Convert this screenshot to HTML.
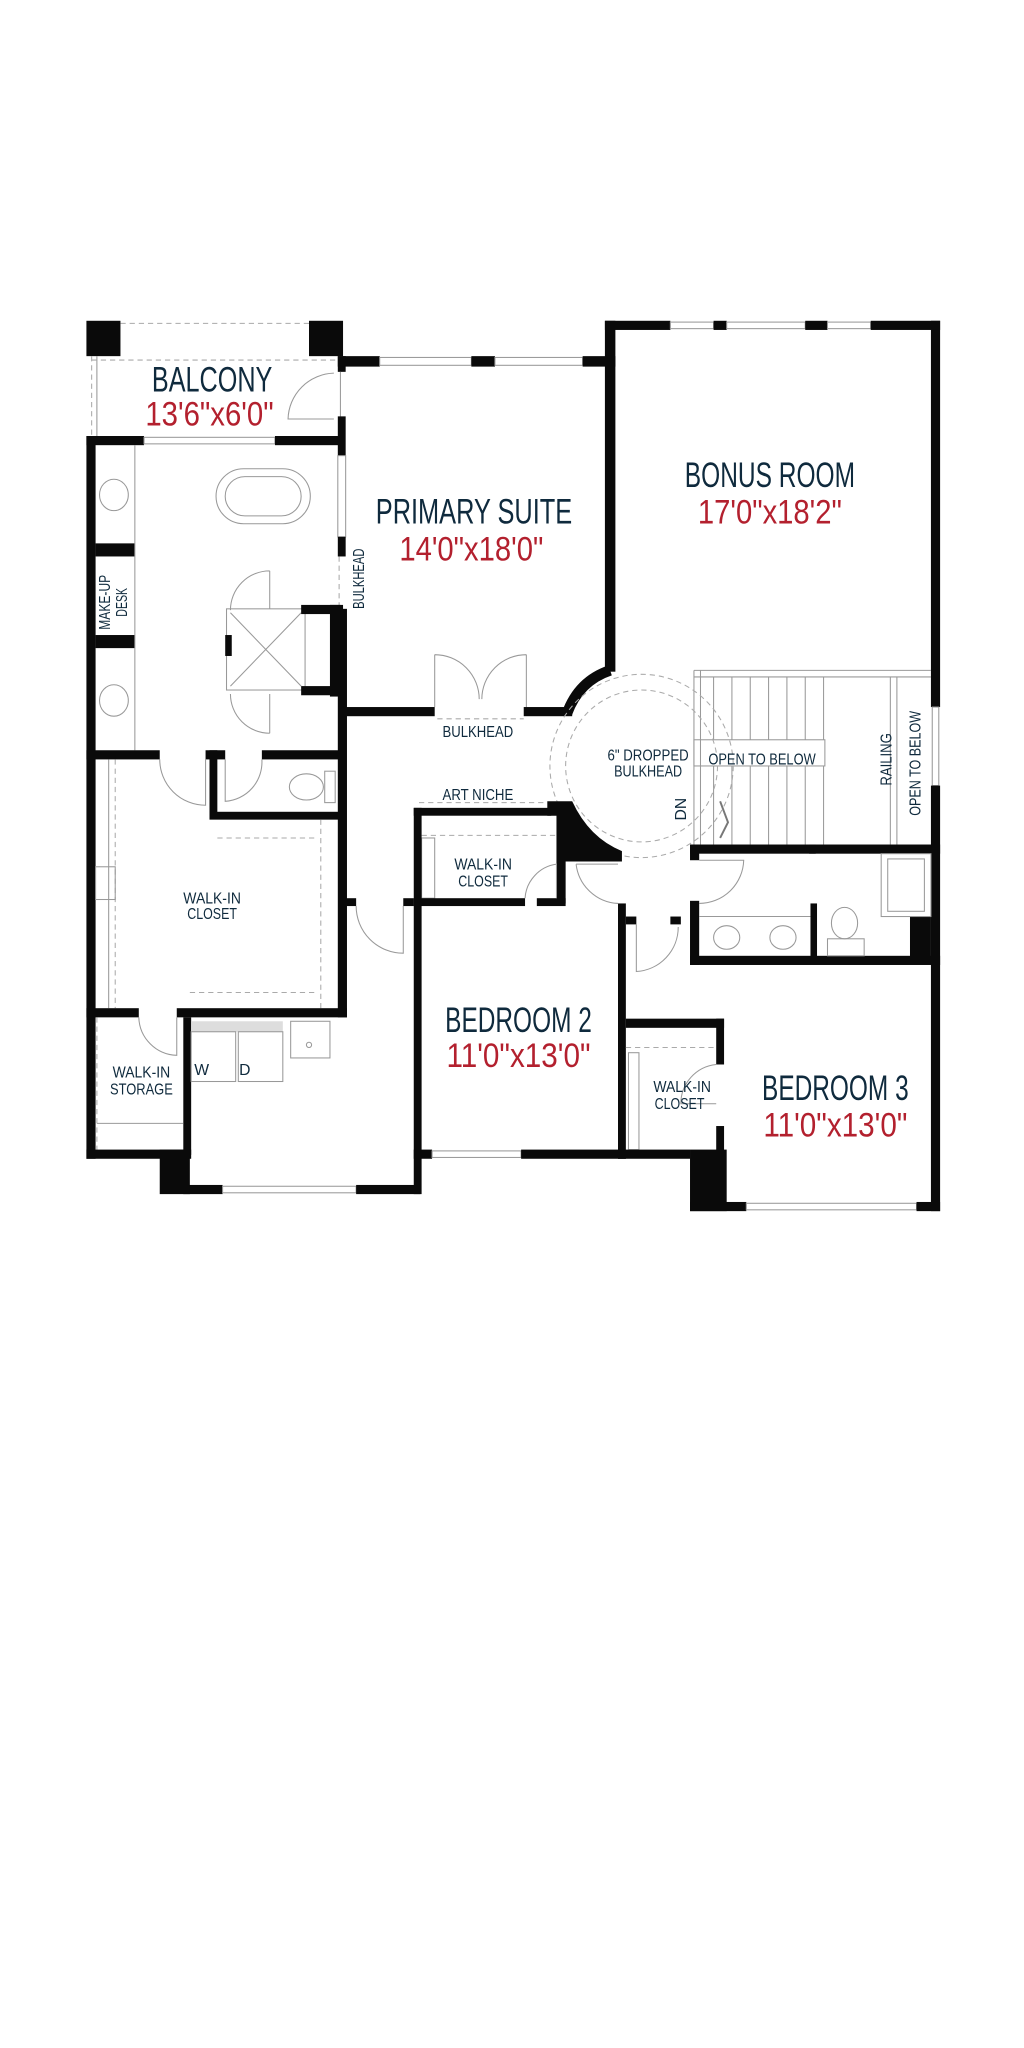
<!DOCTYPE html>
<html><head><meta charset="utf-8"><style>
html,body{margin:0;padding:0;background:#fff;width:1024px;height:2048px;overflow:hidden}
svg{display:block}
.n{fill:#0f2a3d;font-family:"Liberation Sans Narrow","Liberation Sans",sans-serif;text-anchor:middle}
.r{fill:#b3202e;font-family:"Liberation Sans Narrow","Liberation Sans",sans-serif;text-anchor:middle}
.w{fill:#0a0a0a}
.t{fill:none;stroke:#999;stroke-width:0.8}
.d{fill:none;stroke:#aaa;stroke-width:0.8;stroke-dasharray:4 3}
.win{fill:#fff;stroke:#999;stroke-width:0.8}
</style></head><body>
<svg width="1024" height="2048" viewBox="0 0 768 1536" xmlns="http://www.w3.org/2000/svg">
<g transform="scale(0.982)">
<!-- balcony -->
<rect class="w" x="66" y="245" width="26" height="27"/>
<rect class="w" x="236" y="245" width="26" height="27"/>
<line class="d" x1="92" y1="247" x2="236" y2="247"/>
<line class="d" x1="70" y1="272" x2="70" y2="333"/>
<line class="t" x1="74" y1="272" x2="74" y2="333"/>
<line class="d" x1="70" y1="275" x2="258" y2="275"/>
<path class="t" d="M255,285 A36,36 0 0 0 220,320 L255,320"/>
<!-- primary suite top -->
<rect class="w" x="258" y="272" width="32" height="8"/>
<rect class="win" x="290" y="273" width="70" height="6"/>
<rect class="w" x="360" y="272" width="18" height="8"/>
<rect class="win" x="378" y="273" width="67" height="6"/>
<rect class="w" x="445" y="272" width="25" height="8"/>
<!-- primary left wall -->
<rect class="w" x="258" y="272" width="6" height="12"/>
<line class="t" x1="260" y1="284" x2="260" y2="320"/>
<rect class="w" x="258" y="318" width="6" height="30"/>
<rect class="win" x="258" y="348" width="6" height="62"/>
<rect class="w" x="258" y="410" width="6" height="15"/>
<line class="d" x1="259" y1="425" x2="259" y2="465"/>
<rect class="w" x="258" y="465" width="7" height="312"/>
<!-- bath -->
<rect class="w" x="66" y="333" width="44" height="7"/>
<rect class="win" x="110" y="334" width="100" height="5"/>
<rect class="w" x="210" y="333" width="52" height="7"/>
<rect class="w" x="66" y="333" width="7" height="552"/>
<rect class="w" x="73" y="415" width="30" height="10"/>
<rect class="w" x="73" y="485" width="30" height="10"/>
<line class="t" x1="103" y1="340" x2="103" y2="573"/>
<ellipse class="t" cx="87" cy="378" rx="11" ry="12"/>
<ellipse class="t" cx="87" cy="535" rx="11" ry="12"/>
<rect class="t" x="165" y="358" width="72" height="42" rx="21"/>
<rect class="t" x="172" y="364" width="58" height="30" rx="15"/>
<rect class="t" x="173" y="465" width="60" height="62"/>
<line class="t" x1="176" y1="468" x2="230" y2="524"/><line class="t" x1="230" y1="468" x2="176" y2="524"/>
<rect class="w" x="172" y="485" width="5" height="16"/>
<rect class="w" x="230" y="462" width="32" height="7"/>
<rect class="w" x="230" y="524" width="32" height="7"/>
<rect class="w" x="252" y="462" width="8" height="70"/>
<path class="t" d="M206,436 A30,30 0 0 0 176,466 M206,436 L206,465 M206,560 A30,30 0 0 1 176,530 M206,530 L206,560"/>
<rect class="w" x="66" y="573" width="56" height="7"/>
<rect class="w" x="157" y="573" width="15" height="7"/>
<rect class="w" x="200" y="573" width="62" height="7"/>
<rect class="w" x="160" y="573" width="6" height="52"/>
<rect class="w" x="160" y="620" width="102" height="6"/>
<path class="t" d="M122,580 A35,35 0 0 0 157,615 L157,580 M200,580 A30,30 0 0 1 172,612 L172,580"/>
<ellipse class="t" cx="234" cy="601" rx="13" ry="10"/><rect class="t" x="248" y="589" width="8" height="24"/>
<!-- walk-in closet -->
<line class="d" x1="88" y1="580" x2="88" y2="770"/>
<line class="t" x1="83" y1="580" x2="83" y2="770"/>
<rect class="t" x="73" y="662" width="15" height="25"/>
<line class="d" x1="245" y1="626" x2="245" y2="770"/>
<line class="d" x1="166" y1="640" x2="240" y2="640"/>
<line class="d" x1="145" y1="758" x2="240" y2="758"/>
<rect class="w" x="66" y="770" width="40" height="7"/>
<rect class="w" x="135" y="770" width="130" height="7"/>
<path class="t" d="M106,777 A30,30 0 0 0 135,806 L135,777"/>
<!-- laundry -->
<rect class="w" x="140" y="777" width="6" height="105"/>
<line class="d" x1="74" y1="777" x2="74" y2="880"/>
<line class="t" x1="74" y1="858" x2="140" y2="858"/>
<rect x="146" y="780" width="70" height="8" fill="#ddd"/>
<rect class="t" x="146" y="788" width="34" height="38"/><rect class="t" x="182" y="788" width="34" height="38"/>
<rect class="t" x="222" y="780" width="30" height="28"/><circle class="t" cx="236" cy="798" r="2"/>
<!-- bottom left -->
<rect class="w" x="66" y="878" width="80" height="7"/>
<rect class="w" x="122" y="878" width="23" height="34"/>
<rect class="w" x="140" y="905" width="30" height="7"/>
<rect class="win" x="170" y="906" width="102" height="5"/>
<rect class="w" x="272" y="905" width="49" height="7"/>
<!-- hall door -->
<rect class="w" x="264" y="686" width="8" height="6"/>
<rect class="w" x="308" y="686" width="8" height="6"/>
<path class="t" d="M272,692 A36,36 0 0 0 308,728 L308,692"/>
<!-- corridor top -->
<rect class="w" x="262" y="540" width="70" height="7"/>
<rect class="w" x="400" y="540" width="37" height="7"/>
<path class="t" d="M332,500 L332,540 M402,500 L402,540 M332,500 A34,34 0 0 1 366,534 M402,500 A34,34 0 0 0 368,534"/>
<line class="d" x1="334" y1="549" x2="400" y2="549"/>
<!-- bonus -->
<rect class="w" x="462" y="245" width="8" height="268"/>
<path d="M466,512 Q442,520 433,545" fill="none" stroke="#0a0a0a" stroke-width="8"/>
<rect class="w" x="462" y="245" width="50" height="7"/>
<rect class="win" x="512" y="246" width="33" height="5"/>
<rect class="w" x="545" y="245" width="10" height="7"/>
<rect class="win" x="555" y="246" width="60" height="5"/>
<rect class="w" x="615" y="245" width="17" height="7"/>
<rect class="win" x="632" y="246" width="33" height="5"/>
<rect class="w" x="665" y="245" width="53" height="7"/>
<rect class="w" x="711" y="245" width="7" height="295"/>
<rect class="win" x="712" y="540" width="5" height="60"/>
<rect class="w" x="711" y="600" width="7" height="325"/>
<!-- stairs -->
<line class="t" x1="530" y1="512" x2="711" y2="512"/><line class="t" x1="530" y1="517" x2="711" y2="517"/>
<line class="t" x1="530" y1="512" x2="530" y2="645"/><line class="t" x1="535" y1="512" x2="535" y2="645"/>
<g class="t">
<path d="M545,517V565M559,517V565M573,517V565M587,517V565M601,517V565M615,517V565M629,517V565M545,585V645M559,585V645M573,585V645M587,585V645M601,585V645M615,585V645M629,585V645"/>
</g>
<rect class="t" x="530" y="565" width="100" height="20"/>
<line class="t" x1="680" y1="517" x2="680" y2="645"/><line class="t" x1="685" y1="517" x2="685" y2="645"/>
<circle class="d" cx="490" cy="585" r="70"/>
<circle class="d" cx="490" cy="585" r="58"/>
<path d="M550,612 L556,628 L550,640" fill="none" stroke="#777" stroke-width="1.5"/>
<!-- art niche & bedroom2 closet -->
<line class="d" x1="320" y1="613" x2="418" y2="613"/>
<rect class="w" x="316" y="617" width="105" height="6"/>
<path class="w" d="M418,612 L437,612 Q450,640 475,650 L475,658 L432,658 L432,690 L425,690 L425,623 L418,623 Z"/>
<line class="d" x1="322" y1="638" x2="425" y2="638"/>
<rect class="t" x="322" y="640" width="10" height="46"/>
<rect class="w" x="316" y="617" width="6" height="295"/>
<rect class="w" x="316" y="686" width="85" height="6"/>
<rect class="w" x="410" y="686" width="22" height="6"/>
<path class="t" d="M401,686 A28,28 0 0 1 425,660 L425,686"/>
<rect class="w" x="472" y="690" width="6" height="195"/>
<path class="t" d="M472,660 L440,660 M440,660 A34,34 0 0 0 472,690"/>
<rect class="w" x="316" y="878" width="14" height="7"/>
<rect class="win" x="330" y="879" width="68" height="5"/>
<rect class="w" x="398" y="878" width="80" height="7"/>
<!-- bath 2 -->
<rect class="w" x="527" y="645" width="191" height="7"/>
<rect class="w" x="618" y="645" width="5" height="7"/>
<rect class="w" x="527" y="645" width="7" height="12"/>
<rect class="w" x="527" y="688" width="7" height="49"/>
<rect class="w" x="527" y="730" width="191" height="7"/>
<rect class="w" x="619" y="690" width="5" height="45"/>
<rect class="w" x="695" y="700" width="16" height="32"/>
<line class="t" x1="534" y1="700" x2="619" y2="700"/>
<ellipse class="t" cx="555" cy="716" rx="10" ry="9"/><ellipse class="t" cx="598" cy="716" rx="10" ry="9"/>
<ellipse class="t" cx="645" cy="705" rx="10" ry="12"/><rect class="t" x="632" y="717" width="28" height="13"/>
<rect class="t" x="673" y="652" width="38" height="48"/><rect class="t" x="678" y="656" width="28" height="40"/>
<path class="t" d="M534,657 L568,657 A34,34 0 0 1 534,690"/>
<rect class="w" x="478" y="700" width="8" height="6"/>
<rect class="w" x="512" y="700" width="8" height="6"/>
<path class="t" d="M486,706 L486,742 A34,34 0 0 0 518,708"/>
<!-- bedroom 3 -->
<rect class="w" x="478" y="778" width="75" height="7"/>
<rect class="w" x="547" y="778" width="6" height="35"/>
<rect class="w" x="547" y="860" width="6" height="25"/>
<line class="d" x1="478" y1="800" x2="547" y2="800"/>
<rect class="t" x="480" y="804" width="8" height="74"/>
<path class="t" d="M547,813 A30,30 0 0 0 520,843 L547,843"/>
<rect class="w" x="472" y="878" width="55" height="7"/>
<rect class="w" x="527" y="878" width="28" height="47"/>
<rect class="w" x="527" y="918" width="43" height="7"/>
<rect class="win" x="570" y="919" width="130" height="5"/>
<rect class="w" x="700" y="918" width="18" height="7"/>

<!-- labels -->
<text class="n" x="162" y="299" font-size="27" textLength="92" lengthAdjust="spacingAndGlyphs">BALCONY</text>
<text class="r" x="160" y="325" font-size="26" textLength="98" lengthAdjust="spacingAndGlyphs">13'6"x6'0"</text>
<text class="n" x="362" y="400" font-size="27" textLength="150" lengthAdjust="spacingAndGlyphs">PRIMARY SUITE</text>
<text class="r" x="360" y="428" font-size="26" textLength="110" lengthAdjust="spacingAndGlyphs">14'0"x18'0"</text>
<text class="n" x="588" y="372" font-size="27" textLength="130" lengthAdjust="spacingAndGlyphs">BONUS ROOM</text>
<text class="r" x="588" y="400" font-size="26" textLength="110" lengthAdjust="spacingAndGlyphs">17'0"x18'2"</text>
<text class="n" x="396" y="788" font-size="27" textLength="112" lengthAdjust="spacingAndGlyphs">BEDROOM 2</text>
<text class="r" x="396" y="815" font-size="26" textLength="110" lengthAdjust="spacingAndGlyphs">11'0"x13'0"</text>
<text class="n" x="638" y="840" font-size="27" textLength="112" lengthAdjust="spacingAndGlyphs">BEDROOM 3</text>
<text class="r" x="638" y="868" font-size="26" textLength="110" lengthAdjust="spacingAndGlyphs">11'0"x13'0"</text>
<g font-size="12">
<text class="n" transform="translate(278,442) rotate(-90)" textLength="46" lengthAdjust="spacingAndGlyphs">BULKHEAD</text>
<text class="n" transform="translate(84,460) rotate(-90)" textLength="42" lengthAdjust="spacingAndGlyphs">MAKE-UP</text>
<text class="n" transform="translate(97,460) rotate(-90)" textLength="22" lengthAdjust="spacingAndGlyphs">DESK</text>
<text class="n" x="365" y="563" textLength="54" lengthAdjust="spacingAndGlyphs">BULKHEAD</text>
<text class="n" x="365" y="611" textLength="54" lengthAdjust="spacingAndGlyphs">ART NICHE</text>
<text class="n" x="495" y="581" textLength="62" lengthAdjust="spacingAndGlyphs">6" DROPPED</text>
<text class="n" x="495" y="593" textLength="52" lengthAdjust="spacingAndGlyphs">BULKHEAD</text>
<text class="n" x="582" y="584" textLength="82" lengthAdjust="spacingAndGlyphs">OPEN TO BELOW</text>
<text class="n" transform="translate(681,580) rotate(-90)" textLength="40" lengthAdjust="spacingAndGlyphs">RAILING</text>
<text class="n" transform="translate(703,583) rotate(-90)" textLength="80" lengthAdjust="spacingAndGlyphs">OPEN TO BELOW</text>
<text class="n" transform="translate(524,618) rotate(-90)">DN</text>
<text class="n" x="369" y="664" textLength="44" lengthAdjust="spacingAndGlyphs">WALK-IN</text>
<text class="n" x="369" y="677" textLength="38" lengthAdjust="spacingAndGlyphs">CLOSET</text>
<text class="n" x="162" y="690" textLength="44" lengthAdjust="spacingAndGlyphs">WALK-IN</text>
<text class="n" x="162" y="702" textLength="38" lengthAdjust="spacingAndGlyphs">CLOSET</text>
<text class="n" x="108" y="823" textLength="44" lengthAdjust="spacingAndGlyphs">WALK-IN</text>
<text class="n" x="108" y="836" textLength="48" lengthAdjust="spacingAndGlyphs">STORAGE</text>
<text class="n" x="154" y="821">W</text>
<text class="n" x="187" y="821">D</text>
<text class="n" x="521" y="834" textLength="44" lengthAdjust="spacingAndGlyphs">WALK-IN</text>
<text class="n" x="519" y="847" textLength="38" lengthAdjust="spacingAndGlyphs">CLOSET</text>
</g>
</g>
</svg>
</body></html>
